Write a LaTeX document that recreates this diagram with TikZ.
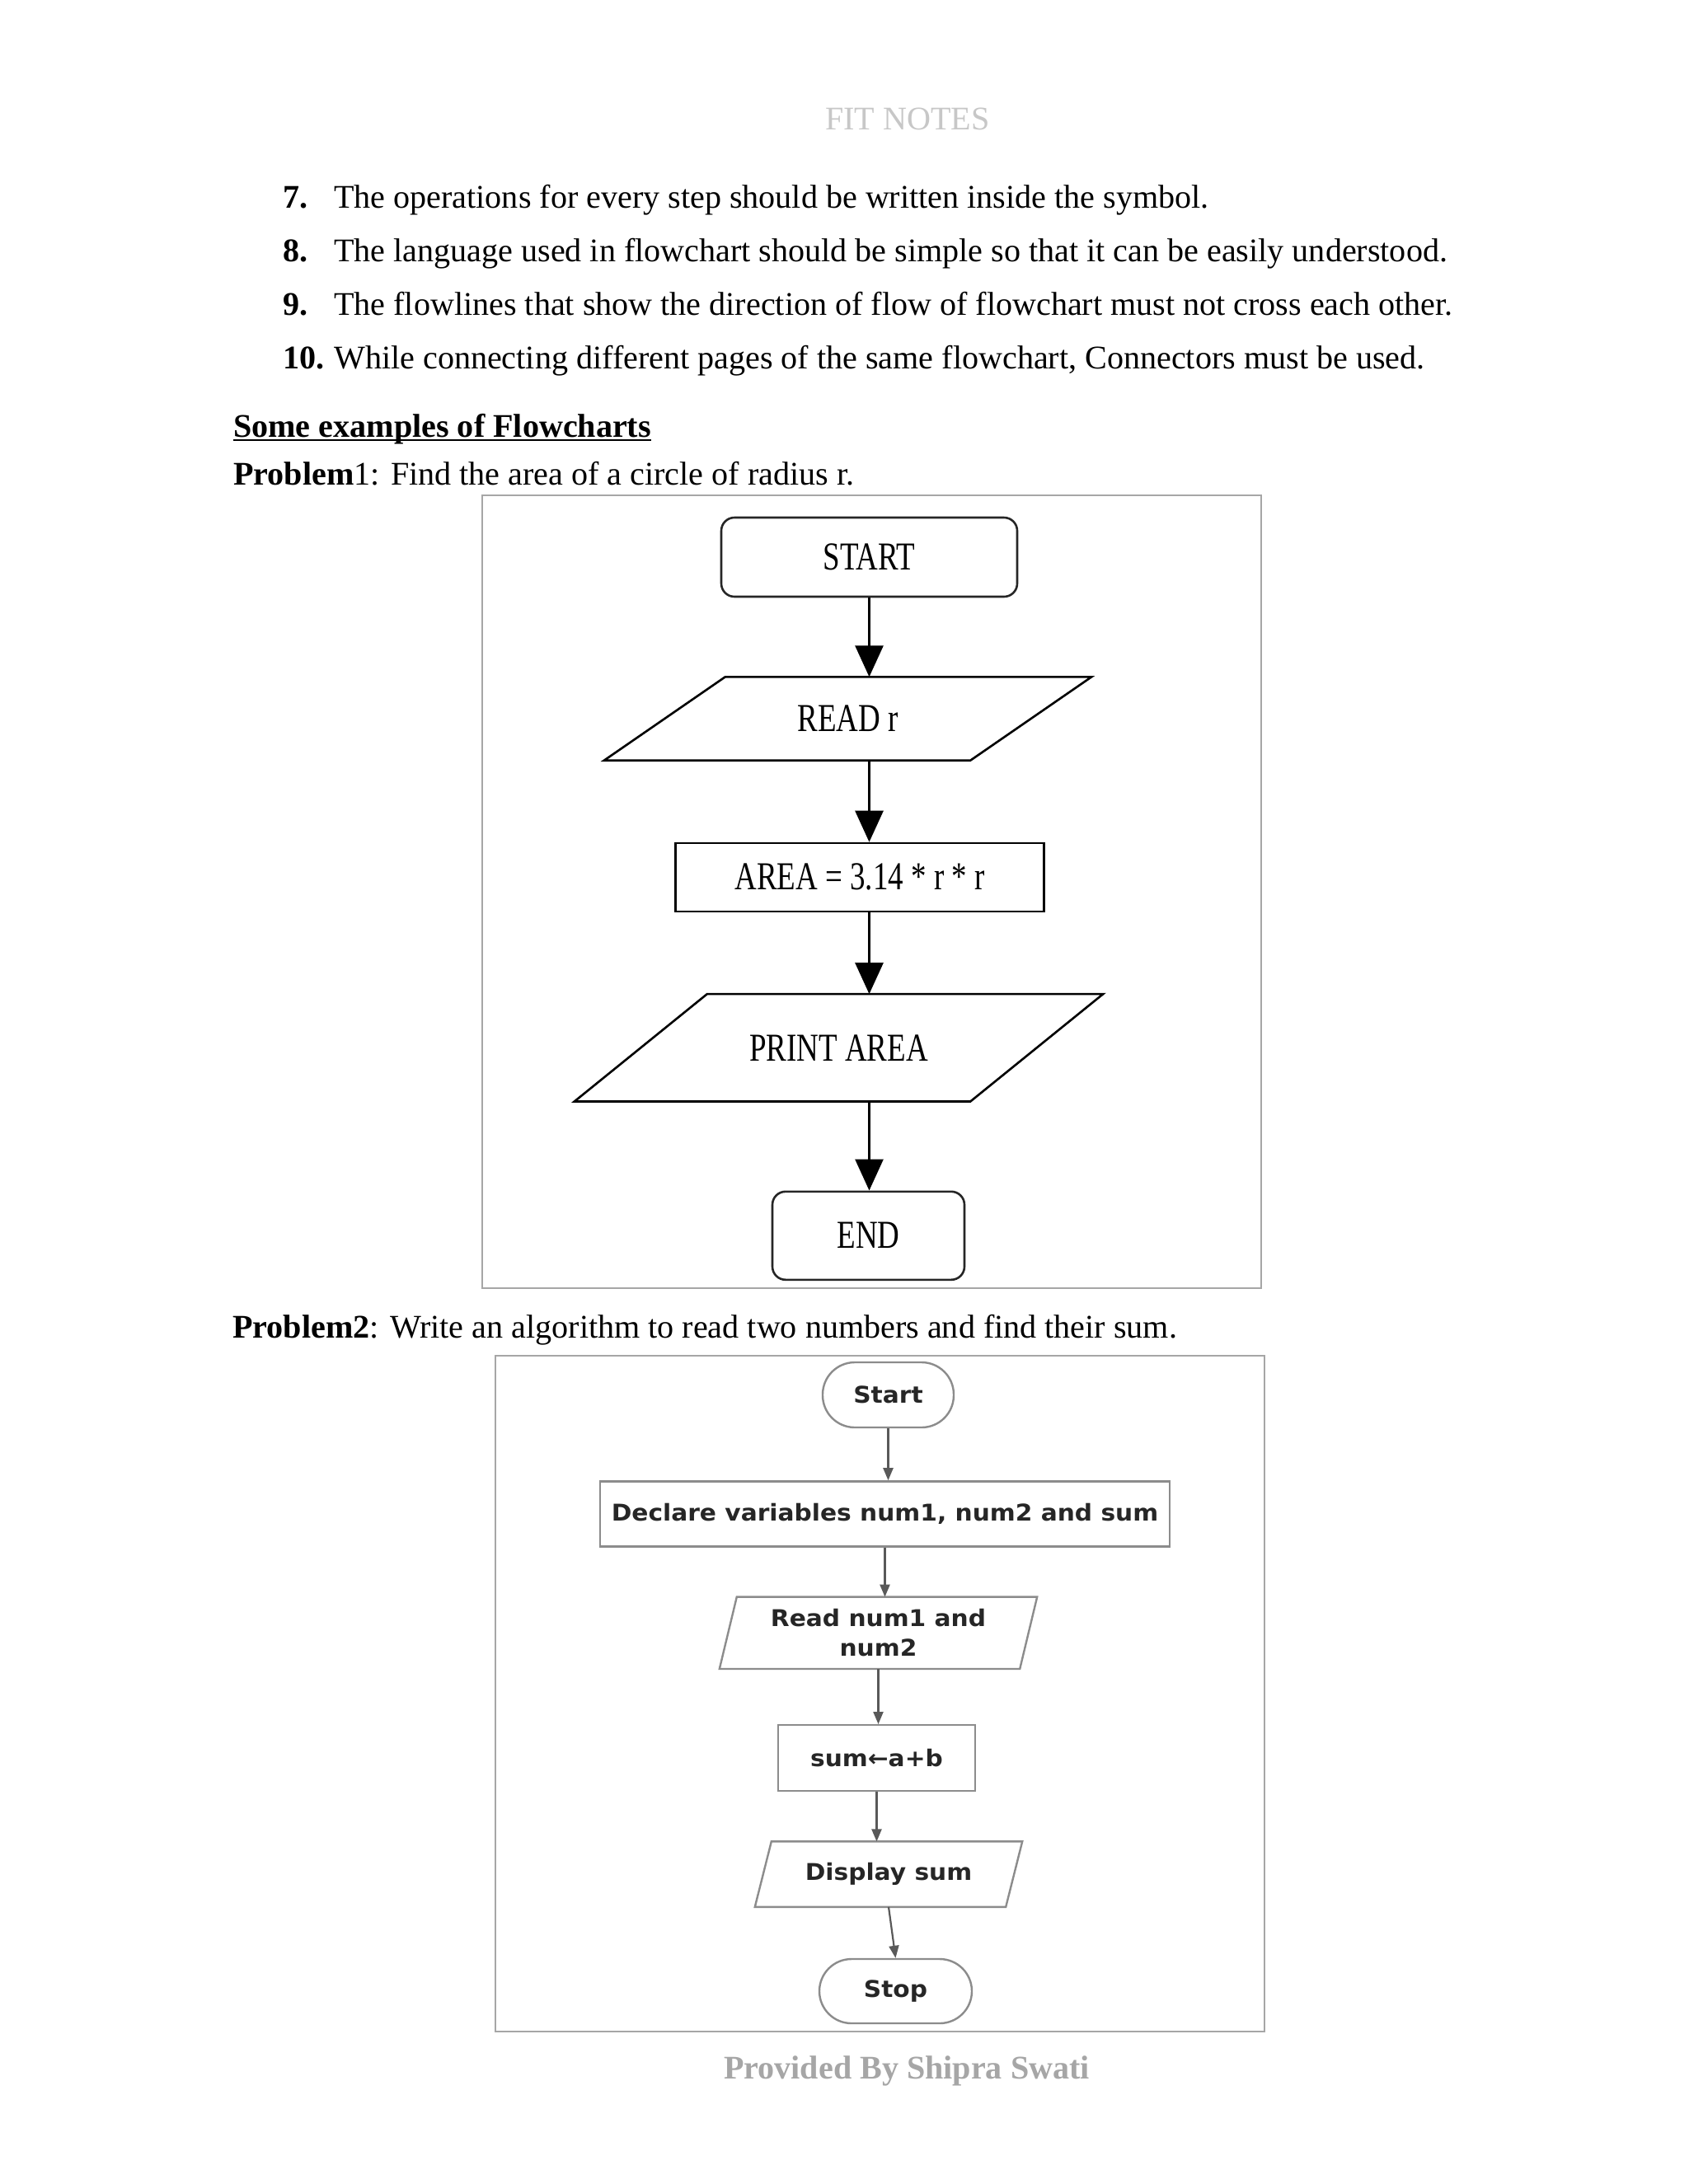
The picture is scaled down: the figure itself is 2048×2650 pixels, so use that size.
\documentclass[tikz,border=0pt]{standalone}
\usepackage{fontspec}
\usepackage{graphicx}
\setmainfont{Liberation Serif}
\newfontfamily\chartsans{DejaVu Sans}
\usetikzlibrary{arrows.meta, positioning}

\newcommand{\squeeze}[1]{\scalebox{0.77}[1]{#1}}
\newcommand{\widen}[1]{\scalebox{1.06}[1]{#1}}

\tikzstyle{textline} = [anchor=base west, inner sep=0pt, font=\fontsize{40.1}{48}\selectfont]
\tikzstyle{chartframe} = [draw=black!35, line width=2pt]
\tikzstyle{term} = [rectangle, rounded corners=16pt, draw=black!85, line width=2.6pt, inner sep=0pt, font=\fontsize{48}{56}\selectfont]
\tikzstyle{proc} = [rectangle, draw=black, line width=2.4pt, inner sep=0pt, font=\fontsize{48}{56}\selectfont]
\tikzstyle{io} = [rectangle, inner sep=0pt, font=\fontsize{48}{56}\selectfont]
\tikzstyle{ioline} = [draw=black, line width=2.6pt]
\tikzstyle{arrow} = [line width=2.8pt, -{Triangle[width=34pt, length=38pt]}]
\tikzstyle{pill} = [rectangle, rounded corners=39pt, draw=black!45, line width=2.4pt, inner sep=0pt, minimum height=79pt, text=black!85, font=\chartsans\bfseries\fontsize{28}{36}\selectfont]
\tikzstyle{task} = [rectangle, draw=black!45, line width=2.4pt, inner sep=0pt, text=black!85, font=\chartsans\bfseries\fontsize{28}{36}\selectfont]
\tikzstyle{slanted} = [rectangle, inner sep=0pt, align=center, text=black!85, font=\chartsans\bfseries\fontsize{28}{36}\selectfont]
\tikzstyle{slantline} = [draw=black!45, line width=2.4pt]
\tikzstyle{thinarrow} = [draw=black!65, line width=2.2pt, -{Triangle[width=12pt, length=15pt]}]

\begin{document}
\begin{tikzpicture}[x=1pt, y=-1pt]
\useasboundingbox (0,0) rectangle (2048,2650);
\fill[white] (0,0) rectangle (2048,2650);

% Header
\node (header) [textline, anchor=base, text=black!22] at (1101,157) {FIT NOTES};

% Rules 7 to 10
\node (num7) [textline] at (343,252) {\textbf{7.}};
\node (rule7) [textline] at (405,252) {The operations for every step should be written inside the symbol.};
\node (num8) [textline] at (343,317) {\textbf{8.}};
\node (rule8) [textline] at (405,317) {The language used in flowchart should be simple so that it can be easily understood.};
\node (num9) [textline] at (343,382) {\textbf{9.}};
\node (rule9) [textline] at (405,382) {The flowlines that show the direction of flow of flowchart must not cross each other.};
\node (num10) [textline] at (343,447) {\textbf{10.}};
\node (rule10) [textline] at (405,447) {While connecting different pages of the same flowchart, Connectors must be used.};

% Heading
\node (examples) [textline] at (283,530) {\textbf{Some examples of Flowcharts}};
\draw [line width=2.2pt] ([yshift=-4pt]examples.base west) -- ([yshift=-4pt]examples.base east);

% Problem 1
\node (problem1) [textline] at (283,588) {\textbf{Problem}1: Find the area of a circle of radius r.};
\draw [chartframe] (585,601) rectangle (1530,1563);

\node (start) [term, minimum width=359pt, minimum height=96pt] at (1054.5,676) {\squeeze{START}};
\node (read) [io, minimum width=591pt, minimum height=101pt, below=96pt of start, xshift=-26pt] {\squeeze{READ r}};
\node (area) [proc, minimum width=447pt, minimum height=83pt, below=99pt of read, xshift=14.5pt] {\squeeze{AREA = 3.14 * r * r}};
\node (print) [io, minimum width=641pt, minimum height=130pt, below=99pt of area, xshift=-25.5pt] {\squeeze{PRINT AREA}};
\node (end) [term, minimum width=233pt, minimum height=107pt, below=108pt of print, xshift=36pt] {\squeeze{END}};

% Input/output shapes
\draw [ioline] (read.south west) -- ([xshift=147pt]read.north west) -- (read.north east) -- ([xshift=-147pt]read.south east) -- cycle;
\draw [ioline] (print.south west) -- ([xshift=161pt]print.north west) -- (print.north east) -- ([xshift=-161pt]print.south east) -- cycle;

% Arrows
\draw [arrow] (start.south) -- (start.south |- read.north);
\draw [arrow] (read.south -| start.south) -- (area.north -| start.south);
\draw [arrow] (area.south -| start.south) -- (print.north -| start.south);
\draw [arrow] (print.south -| start.south) -- (end.north -| start.south);

% Problem 2
\node (problem2) [textline] at (282,1623) {\textbf{Problem2}: Write an algorithm to read two numbers and find their sum.};
\draw [chartframe] (601,1645) rectangle (1534,2465);

\node (begin) [pill, minimum width=159pt] at (1077.5,1692.5) {\widen{Start}};
\node (declare) [task, minimum width=691pt, minimum height=79pt, below=63pt of begin, xshift=-4pt] {\widen{Declare variables num1, num2 and sum}};
\node (readnum) [slanted, minimum width=385pt, minimum height=87pt, below=60pt of declare, xshift=-8pt] {\widen{Read num1 and}\\\widen{num2}};
\node (sum) [task, minimum width=239pt, minimum height=80pt, below=67pt of readnum, xshift=-2pt] {\widen{sum←a+b}};
\node (display) [slanted, minimum width=324pt, minimum height=79pt, below=60pt of sum, xshift=14.5pt] {\widen{Display sum}};
\node (stop) [pill, minimum width=185pt, minimum height=78pt, below=62pt of display, xshift=8.5pt] {\widen{Stop}};

% Input/output shapes
\draw [slantline] (readnum.south west) -- ([xshift=21pt]readnum.north west) -- (readnum.north east) -- ([xshift=-21pt]readnum.south east) -- cycle;
\draw [slantline] (display.south west) -- ([xshift=20pt]display.north west) -- (display.north east) -- ([xshift=-20pt]display.south east) -- cycle;

% Arrows
\draw [thinarrow] (begin.south) -- (begin.south |- declare.north);
\draw [thinarrow] (declare.south) -- (declare.south |- readnum.north);
\draw [thinarrow] (readnum.south) -- (readnum.south |- sum.north);
\draw [thinarrow] (sum.south) -- (sum.south |- display.north);
\draw [thinarrow] (display.south) -- (stop.north);

% Footer
\node (footer) [textline, anchor=base, text=black!35] at (1100,2522) {\textbf{Provided By Shipra Swati}};

\end{tikzpicture}
\end{document}
